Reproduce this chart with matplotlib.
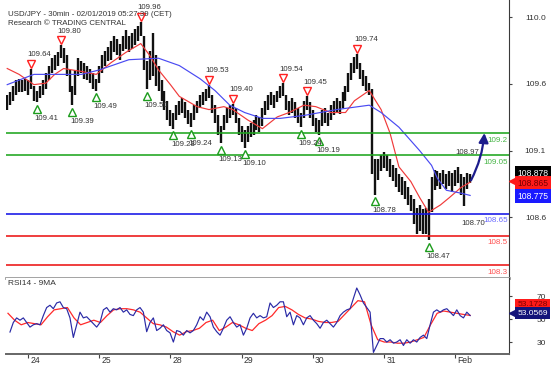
import numpy as np
import matplotlib
matplotlib.use('Agg')
import matplotlib.pyplot as plt
from matplotlib.transforms import ScaledTranslation

plt.rcParams['font.family'] = ['Liberation Sans', 'DejaVu Sans']

# ---------------- data ----------------
title = "USD/JPY - 30min - 02/01/2019 05:27:39 (CET)"
subtitle = "Research \u00a9 TRADING CENTRAL"

# hourly bars (bar index 0 .. 156)
highs = [
    109.46, 109.48, 109.52, 109.56, 109.57, 109.56, 109.57, 109.56, 109.64, 109.52,
    109.49, 109.52, 109.56, 109.61, 109.66, 109.71, 109.73, 109.75, 109.80, 109.78,
    109.73, 109.63, 109.52, 109.63, 109.71, 109.69, 109.68, 109.66, 109.64, 109.61,
    109.57, 109.66, 109.73, 109.76, 109.79, 109.83, 109.86, 109.84, 109.81, 109.86,
    109.90, 109.86, 109.88, 109.91, 109.93, 109.96, 109.86, 109.69, 109.76, 109.88,
    109.73, 109.66, 109.56, 109.49, 109.42, 109.36, 109.34, 109.39, 109.42, 109.44,
    109.41, 109.36, 109.34, 109.39, 109.42, 109.46, 109.48, 109.50, 109.53, 109.46,
    109.39, 109.32, 109.25, 109.32, 109.37, 109.39, 109.40, 109.37, 109.30, 109.25,
    109.22, 109.25, 109.27, 109.29, 109.32, 109.31, 109.37, 109.42, 109.46, 109.48,
    109.46, 109.49, 109.52, 109.54, 109.46, 109.42, 109.44, 109.41, 109.37, 109.34,
    109.42, 109.45, 109.41, 109.36, 109.30, 109.29, 109.36, 109.37, 109.34, 109.39,
    109.42, 109.44, 109.42, 109.48, 109.52, 109.61, 109.68, 109.72, 109.74, 109.68,
    109.63, 109.59, 109.54, 109.50, 109.02, 109.02, 109.05, 109.07, 109.05, 109.02,
    108.98, 108.96, 108.92, 108.90, 108.87, 108.83, 108.78, 108.75, 108.69, 108.71,
    108.68, 108.69, 108.75, 108.90, 108.95, 108.94, 108.93, 108.95, 108.92, 108.94,
    108.93, 108.95, 108.97, 108.92, 108.90, 108.93, 108.92]
lows = [
    109.36, 109.39, 109.42, 109.46, 109.48, 109.48, 109.49, 109.46, 109.50, 109.42,
    109.41, 109.44, 109.46, 109.50, 109.56, 109.61, 109.63, 109.66, 109.71, 109.68,
    109.59, 109.48, 109.39, 109.46, 109.59, 109.61, 109.57, 109.56, 109.54, 109.50,
    109.49, 109.54, 109.61, 109.66, 109.69, 109.70, 109.75, 109.73, 109.70, 109.76,
    109.77, 109.75, 109.77, 109.80, 109.83, 109.86, 109.63, 109.50, 109.56, 109.59,
    109.52, 109.49, 109.42, 109.36, 109.29, 109.25, 109.23, 109.29, 109.32, 109.34,
    109.30, 109.26, 109.24, 109.29, 109.34, 109.37, 109.39, 109.42, 109.44, 109.34,
    109.27, 109.19, 109.13, 109.22, 109.27, 109.30, 109.32, 109.27, 109.19, 109.14,
    109.10, 109.14, 109.17, 109.19, 109.22, 109.21, 109.25, 109.32, 109.36, 109.39,
    109.37, 109.41, 109.44, 109.45, 109.36, 109.32, 109.34, 109.30, 109.27, 109.24,
    109.30, 109.36, 109.30, 109.25, 109.21, 109.19, 109.25, 109.27, 109.25, 109.29,
    109.32, 109.34, 109.33, 109.37, 109.42, 109.48, 109.56, 109.61, 109.64, 109.57,
    109.52, 109.49, 109.46, 108.92, 108.78, 108.88, 108.94, 108.96, 108.94, 108.90,
    108.87, 108.83, 108.80, 108.78, 108.75, 108.71, 108.67, 108.58, 108.51, 108.53,
    108.51, 108.51, 108.47, 108.66, 108.81, 108.84, 108.82, 108.85, 108.82, 108.84,
    108.80, 108.84, 108.86, 108.78, 108.70, 108.82, 108.86]
last_close = 108.878

# moving averages on price (bar index, value)
red_ma_idx = [0, 4, 9, 13, 16, 19, 25, 30, 35, 40, 45, 48, 51, 55, 58, 64, 68, 73, 76,
              81, 86, 91, 95, 100, 104, 109, 114, 117, 122, 126, 129, 132, 136, 139,
              142, 146, 149, 153, 156]
red_ma = [109.64, 109.60, 109.53, 109.54, 109.60, 109.64, 109.62, 109.60, 109.68, 109.75,
          109.81, 109.73, 109.63, 109.53, 109.45, 109.38, 109.36, 109.38, 109.36,
          109.29, 109.23, 109.31, 109.34, 109.39, 109.38, 109.34, 109.34, 109.42, 109.49,
          109.36, 109.20, 108.97, 108.87, 108.76, 108.66, 108.71, 108.76, 108.83, 108.865]
blue_ma_idx = [0, 9, 25, 31, 41, 51, 58, 65, 70, 75, 80, 86, 92, 100, 111, 122, 126,
               132, 139, 143, 145, 148, 153, 156]
blue_ma = [109.53, 109.60, 109.60, 109.63, 109.70, 109.71, 109.66, 109.57, 109.49,
           109.39, 109.34, 109.30, 109.30, 109.32, 109.36, 109.39, 109.34, 109.24,
           109.08, 108.98, 108.89, 108.81, 108.79, 108.775]

# support / resistance levels
level_vals = [109.2, 109.05, 108.65, 108.5, 108.3]
level_text = ["109.2", "109.05", "108.65", "108.5", "108.3"]
level_line_colors = ['#1ea51e', '#1ea51e', '#1414e6', '#ec1414', '#ec1414']
level_text_colors = ['#45b545', '#45b545', '#6a6aff', '#ff5050', '#ff5050']

# pivot highs / lows (bar index, value)
pivot_high_idx = [8, 18, 45, 68, 76, 93, 101, 118]
pivot_high_val = [109.64, 109.80, 109.96, 109.53, 109.40, 109.54, 109.45, 109.74]
pivot_low_idx = [10, 22, 30, 47, 56, 62, 72, 80, 99, 105, 124, 142]
pivot_low_val = [109.41, 109.39, 109.49, 109.50, 109.23, 109.24, 109.13, 109.10,
                 109.24, 109.19, 108.78, 108.47]
recent_high_idx, recent_high_val = 152, 108.97
recent_low_idx, recent_low_val = 154, 108.70

# forecast arrow
forecast_x = [156.3, 160.8]
forecast_y = [108.878, 109.2]

price_ticks = [109.99, 109.535, 109.08, 108.625]
price_tick_labels = ["110.0", "109.6", "109.1", "108.6"]
red_box_val = 108.865
blue_box_val = 108.775

# days
day_idx = [7, 31, 55, 79, 103, 127, 151]
day_labels = ["24", "25", "28", "29", "30", "31", "Feb"]

# RSI14 (sampled evenly from bar 0.93 to 156) and its 9MA
rsi_first, rsi_last = 0.93, 156.0
rsi = [38.7, 47, 51, 49, 51, 47, 43, 45, 46, 45,
       53, 60, 62, 59, 64, 65, 60, 59, 51, 34,
       45, 56, 51, 52, 49, 46, 43, 47, 58, 60,
       56, 59, 58, 60, 56, 58, 54, 53, 58, 60,
       56, 39, 47, 51, 40, 42, 45, 40, 38, 30,
       40, 39, 36, 40, 38, 40, 45, 52, 49, 56,
       52, 43, 39, 36, 42, 49, 52, 47, 43, 45,
       36, 42, 51, 55, 51, 53, 51, 52, 64, 60,
       62,
       65, 65, 52, 56, 45, 53, 51, 45, 51, 53,
       49, 46, 42, 47, 49, 46, 43, 47, 53, 56,
       58, 59, 68, 77, 71, 64, 60, 56, 21, 27,
       33, 33, 30, 32, 29, 30, 32, 27, 32, 29,
       32, 30, 34, 36, 33, 45, 56, 58, 56, 58,
       59, 56, 53, 58, 53, 51, 56, 53.06]
rsi_ma_first, rsi_ma_last = 0.26, 156.0
rsi_ma = [55, 49, 45, 47, 46, 45, 52, 58, 59, 60,
          51, 45, 47, 49, 47, 53, 58, 59, 59, 58,
          56, 51, 46, 45, 43, 39, 36, 39, 40, 42,
          47, 49, 40, 43, 47, 45, 42, 40, 46, 49,
          53, 60,
          61, 58, 54, 51, 50, 48, 47, 47, 48, 54,
          60, 66, 65, 45, 32, 30, 30, 29, 29, 30,
          32, 34, 45, 55, 57, 56, 55, 54, 53.17]
rsi_ticks = [70, 50, 30]
rsi_last_val = 53.0569
rsi_ma_last_val = 53.1728

# ---------------- figure ----------------
W, H = 553, 374
fig = plt.figure(figsize=(W / 100, H / 100), dpi=100)
L, R = 6, 509
ax = fig.add_axes([L / W, 1 - 278 / H, (R - L) / W, 278 / H])
ax2 = fig.add_axes([L / W, 1 - 354 / H, (R - L) / W, (354 - 278) / H])

def px_off(dx, dy):
    return ScaledTranslation(dx / 100, dy / 100, fig.dpi_scale_trans)

txt_col = '#333333'
bars = np.arange(len(highs))

# levels
for v, lc in zip(level_vals, level_line_colors):
    ax.axhline(v, color=lc, lw=1.15, zorder=4)
for v, t, tc in zip(level_vals, level_text, level_text_colors):
    ax.annotate(t, xy=(1, v), xycoords=('axes fraction', 'data'), xytext=(-1, -5),
                textcoords='offset points', ha='right', va='center', fontsize=5.8,
                color=tc, annotation_clip=False, zorder=6)

# price bars
ax.vlines(bars, lows, highs, color='#111111', lw=1.7, zorder=2)

# moving averages
ax.plot(red_ma_idx, red_ma, color='#f03a3a', lw=0.85, zorder=3)
ax.plot(blue_ma_idx, blue_ma, color='#4a4af2', lw=0.85, zorder=3)

# pivots
ax.plot(pivot_high_idx, pivot_high_val, linestyle='none', marker='v', ms=5.2,
        mfc='white', mec='#ff2020', mew=1.0, zorder=6,
        transform=ax.transData + px_off(0, 5))
ax.plot(pivot_low_idx, pivot_low_val, linestyle='none', marker='^', ms=5.2,
        mfc='white', mec='#1c9c1c', mew=1.0, zorder=6,
        transform=ax.transData + px_off(0, -6.5))
for i, v in zip(pivot_high_idx, pivot_high_val):
    ax.annotate(f"{v:.2f}", xy=(i, v), xytext=(-3.5 * 0.72, 14 * 0.72),
                textcoords='offset points', ha='left', va='center', fontsize=5.6,
                color=txt_col, zorder=7, annotation_clip=False)
for i, v in zip(pivot_low_idx, pivot_low_val):
    ax.annotate(f"{v:.2f}", xy=(i, v), xytext=(-2.5 * 0.72, -16 * 0.72),
                textcoords='offset points', ha='left', va='center', fontsize=5.6,
                color=txt_col, zorder=7, annotation_clip=False)
ax.annotate(f"{recent_high_val:.2f}", xy=(recent_high_idx, recent_high_val),
            xytext=(-3 * 0.72, 14 * 0.72), textcoords='offset points', ha='left',
            va='center', fontsize=5.6, color=txt_col, zorder=7)
ax.annotate(f"{recent_low_val:.2f}", xy=(recent_low_idx, recent_low_val),
            xytext=(-3 * 0.72, -17 * 0.72), textcoords='offset points', ha='left',
            va='center', fontsize=5.6, color=txt_col, zorder=7)

# forecast arrow
ax.annotate('', xy=(forecast_x[1], forecast_y[1]), xytext=(forecast_x[0], forecast_y[0]),
            arrowprops=dict(arrowstyle='-|>,head_length=0.55,head_width=0.28',
                            color='#1c1c8c', lw=1.6, shrinkA=0, shrinkB=0,
                            connectionstyle='arc3,rad=0.1'),
            annotation_clip=False, zorder=8)

ax.set_xlim(-0.41, 169.1)
ax.set_ylim(108.212, 110.107)

# right price axis
ax.yaxis.tick_right()
ax.set_yticks(price_ticks)
ax.set_yticklabels(price_tick_labels)
ax.tick_params(axis='y', direction='out', length=2.2, width=0.8, colors='#444444',
               labelsize=6, labelcolor=txt_col, pad=24.5)
for lab in ax.get_yticklabels():
    lab.set_ha('right')
ax.tick_params(axis='x', bottom=False, labelbottom=False)
for s in ['left', 'top']:
    ax.spines[s].set_visible(False)
ax.spines['right'].set_color('#3a3a3a')
ax.spines['right'].set_linewidth(0.8)
ax.spines['bottom'].set_color('#9a9a9a')
ax.spines['bottom'].set_linewidth(2.0)

# price boxes
box_kw = dict(xycoords=('axes fraction', 'data'), textcoords='offset points',
              ha='left', va='center', fontsize=6.2, annotation_clip=False, zorder=10)
ax.annotate(f"{last_close:.3f}", xy=(1, last_close), xytext=(8.5 * 0.72, 7 * 0.72),
            color='white', bbox=dict(boxstyle='square,pad=0.3', fc='black', ec='none'),
            **box_kw)
ax.annotate(f"{red_box_val:.3f}", xy=(1, red_box_val), xytext=(8.5 * 0.72, -1 * 0.72),
            color='#7a0000', bbox=dict(boxstyle='square,pad=0.3', fc='#ff1a1a', ec='none'),
            **box_kw)
ax.plot([1], [red_box_val], marker='<', ms=6, color='#ff1a1a', clip_on=False, zorder=10,
        transform=ax.get_yaxis_transform() + px_off(3.5, 1))
ax.annotate(f"{blue_box_val:.3f}", xy=(1, blue_box_val), xytext=(8.5 * 0.72, -1 * 0.72),
            color='white', bbox=dict(boxstyle='square,pad=0.3', fc='#1a1aff', ec='none'),
            **box_kw)

# titles
fig.text(8 / W, 1 - 14 / H, title, fontsize=5.7, color=txt_col, va='center', ha='left')
fig.text(8 / W, 1 - 23.5 / H, subtitle, fontsize=5.7, color=txt_col, va='center', ha='left')

# ---------------- RSI panel ----------------
rsi_x = np.linspace(rsi_first, rsi_last, len(rsi))
rsi_ma_x = np.linspace(rsi_ma_first, rsi_ma_last, len(rsi_ma))
ax2.plot(rsi_ma_x, rsi_ma, color='#ff2a2a', lw=0.9, zorder=3)
ax2.plot(rsi_x, rsi, color='#2a2aa6', lw=0.85, zorder=4)
ax2.set_xlim(-0.41, 169.1)
ax2.set_ylim(19.6, 85.7)
ax2.yaxis.tick_right()
ax2.set_yticks(rsi_ticks)
ax2.set_yticklabels([str(t) for t in rsi_ticks])
ax2.tick_params(axis='y', direction='out', length=2.2, width=0.8, colors='#444444',
                labelsize=6, labelcolor=txt_col, pad=24.5)
for lab in ax2.get_yticklabels():
    lab.set_ha('right')
ax2.set_xticks(day_idx)
ax2.tick_params(axis='x', direction='out', length=3, width=0.8, colors='#444444',
                labelbottom=False)
for s in ['left', 'top']:
    ax2.spines[s].set_visible(False)
ax2.spines['right'].set_color('#3a3a3a')
ax2.spines['right'].set_linewidth(0.8)
ax2.spines['bottom'].set_color('#666666')
ax2.spines['bottom'].set_linewidth(1.4)

for d, lbl in zip(day_idx, day_labels):
    ax2.annotate(lbl, xy=(d, 0), xycoords=('data', 'axes fraction'), xytext=(1.5, -1.5),
                 textcoords='offset points', ha='left', va='top', fontsize=6.2,
                 color=txt_col, annotation_clip=False)

ax2.text(2 / (R - L), 0.93, "RSI14 - 9MA", transform=ax2.transAxes, fontsize=6,
         color=txt_col, ha='left', va='center')

rbox_kw = dict(xycoords=('axes fraction', 'data'), textcoords='offset points',
               ha='left', va='center', fontsize=6.0, annotation_clip=False, zorder=10)
ax2.annotate(f"{rsi_ma_last_val:.4f}", xy=(1, rsi_ma_last_val), xytext=(8.5 * 0.72, 11 * 0.72),
             color='#7a0000', bbox=dict(boxstyle='square,pad=0.25', fc='#ff1a1a', ec='none'),
             **rbox_kw)
ax2.annotate(f"{rsi_last_val:.4f}", xy=(1, rsi_last_val), xytext=(8.5 * 0.72, 2.5 * 0.72),
             color='white', bbox=dict(boxstyle='square,pad=0.25', fc='#14147a', ec='none'),
             **rbox_kw)
ax2.plot([1], [rsi_last_val], marker='<', ms=6, color='#14147a', clip_on=False, zorder=10,
         transform=ax2.get_yaxis_transform() + px_off(3.5, 2.5))

fig.savefig('out.png', dpi=100, facecolor='white')
